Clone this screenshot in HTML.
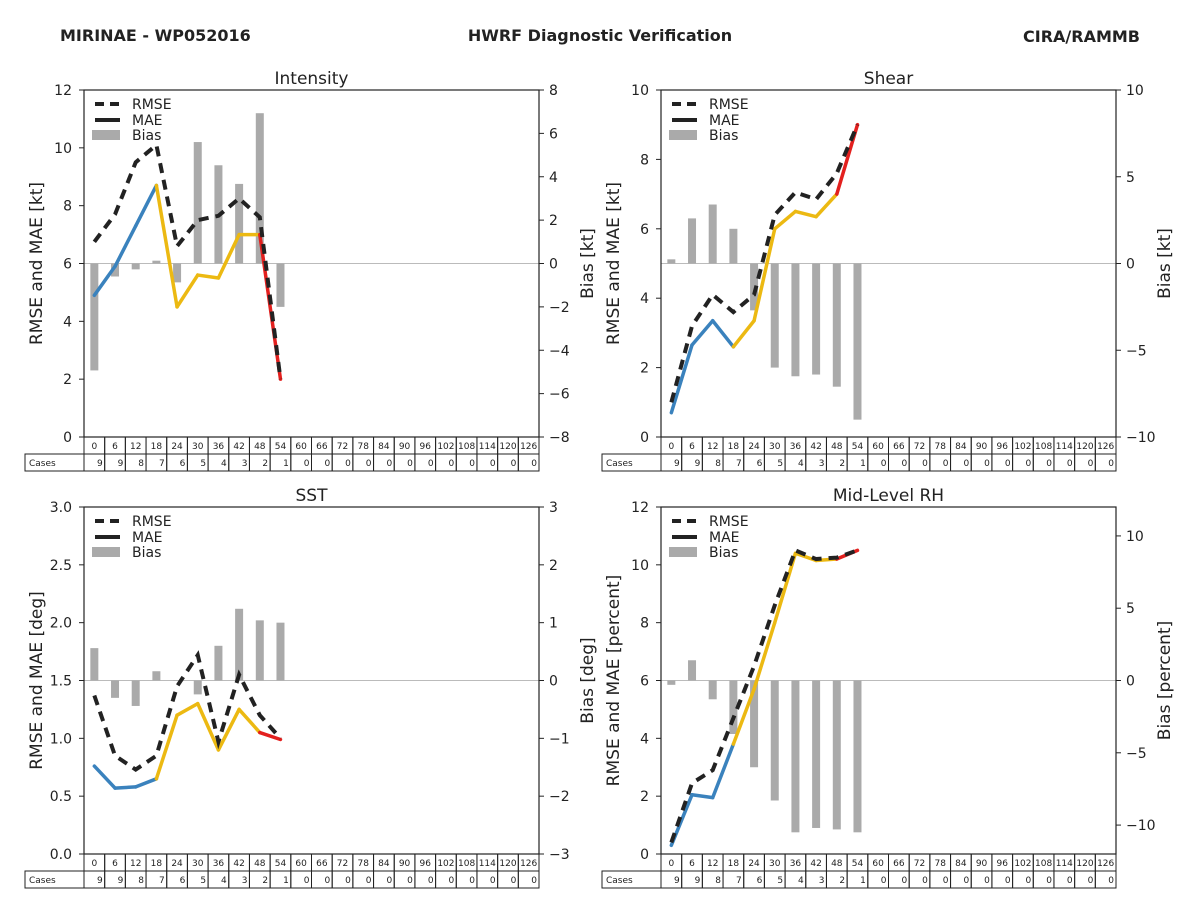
<!DOCTYPE html>
<html><head><meta charset="utf-8"><style>
body{margin:0;background:#fff;}
svg{display:block;font-family:"DejaVu Sans","Liberation Sans",sans-serif;}
</style></head><body>
<svg id="s" width="1200" height="900" viewBox="0 0 1200 900">
<text x="60" y="41" font-size="16" font-weight="bold" fill="#222">MIRINAE - WP052016</text>
<text x="600" y="41" font-size="16" font-weight="bold" fill="#222" text-anchor="middle">HWRF Diagnostic Verification</text>
<text x="1140" y="42" font-size="16" font-weight="bold" fill="#222" text-anchor="end">CIRA/RAMMB</text>
</svg>
<script>
const hours=[0,6,12,18,24,30,36,42,48,54,60,66,72,78,84,90,96,102,108,114,120,126];
const cases=[9,9,8,7,6,5,4,3,2,1,0,0,0,0,0,0,0,0,0,0,0,0];
const intRmse=[6.75,7.7,9.5,10.1,6.6,7.5,7.65,8.25,7.6,2.0];
const intMae=[4.9,5.9,7.3,8.7,4.5,5.6,5.5,7.0,7.0,2.0];
const intBias=[-4.93,-0.6,-0.27,0.13,-0.87,5.6,4.53,3.67,6.93,-2.0];
const shrRmse=[1.0,3.2,4.1,3.6,4.1,6.4,7.05,6.85,7.6,9.0];
const shrMae=[0.7,2.65,3.35,2.6,3.35,6.0,6.5,6.35,7.0,9.0];
const shrBias=[0.24,2.6,3.4,2.0,-2.7,-6.0,-6.5,-6.4,-7.1,-9.0];
const sstRmse=[1.37,0.85,0.73,0.85,1.45,1.72,0.97,1.55,1.2,1.0];
const sstMae=[0.76,0.57,0.58,0.65,1.2,1.3,0.9,1.25,1.05,0.99];
const sstBias=[0.56,-0.3,-0.44,0.16,0,-0.24,0.6,1.24,1.04,1.0];
const rhRmse=[0.4,2.45,2.9,4.7,6.5,8.6,10.5,10.2,10.25,10.5];
const rhMae=[0.3,2.05,1.95,3.8,5.7,8.0,10.4,10.15,10.2,10.5];
const rhBias=[-0.3,1.4,-1.3,-3.7,-6.0,-8.3,-10.5,-10.2,-10.3,-10.5];

const S=document.getElementById('s');const NS='http://www.w3.org/2000/svg';
function el(t,a,p){const e=document.createElementNS(NS,t);for(const k in a)e.setAttribute(k,a[k]);(p||S).appendChild(e);return e;}
function txt(x,y,s,fs,anchor,p){const e=el('text',{x:x,y:y,'font-size':fs,'text-anchor':anchor||'middle',fill:'#222'},p);e.textContent=s;return e;}

function panel(o){
 const g=el('g',{});
 
 
 const L=o.x,R=o.x+455,T=o.y,B=o.y+347,W=R-L,cw=W/hours.length;
 const xs=i=>L+(i+0.5)*cw;
 const yl=v=>B-(v-o.lmin)/(o.lmax-o.lmin)*(B-T);
 const yr=v=>B-(v-o.rmin)/(o.rmax-o.rmin)*(B-T);
 // zero line
 const z=el('line',{x1:L,x2:R,y1:yr(0),y2:yr(0),stroke:'#bbb','stroke-width':1},g);
 
 
 // bias bars
 o.bias.forEach((v,i)=>{const y0=yr(0),y1=yr(v);
  const b=el('rect',{x:xs(i)-4,y:Math.min(y0,y1),width:8,height:Math.max(Math.abs(y1-y0),0.5),fill:'#aaa'},g);
  
  });
 // MAE segments
 const cols=i=>i<3?'#3a82bd':(i<8?'#ecb912':'#e3201e');
 for(let i=0;i<o.mae.length-1;i++){
  const m=el('line',{x1:xs(i),y1:yl(o.mae[i]),x2:xs(i+1),y2:yl(o.mae[i+1]),stroke:cols(i),'stroke-width':3.5,'stroke-linecap':'round'},g);
  
  }
 const pts=o.rmse.map((v,i)=>xs(i)+','+yl(v)).join(' ');
 const r=el('polyline',{points:pts,fill:'none',stroke:'#222','stroke-width':4,'stroke-dasharray':'10,7'},g);
 
 
 // frame
 el('rect',{x:L,y:T,width:W,height:B-T,fill:'none',stroke:'#222','stroke-width':1.2},g);
 // left ticks
 o.lt.forEach(v=>{const y=yl(v);el('line',{x1:L-5,x2:L,y1:y,y2:y,stroke:'#222'},g);txt(L-12,y+5,String(v),14,'end',g);});
 o.rt.forEach(v=>{const y=yr(v);el('line',{x1:R,x2:R+5,y1:y,y2:y,stroke:'#222'},g);txt(R+10,y+5,(v<0?'\u2212':'')+Math.abs(v),14,'start',g);});
 const tl=txt(0,0,o.ylab,17,'middle',g);tl.setAttribute('transform','translate('+(L-42)+','+(T+B)/2+') rotate(-90)');
 
 const tr=txt(0,0,o.rlab,17,'middle',g);tr.setAttribute('transform','translate('+(R+54)+','+(T+B)/2+') rotate(-90)');
 
 const tt=txt((L+R)/2,T-6,o.title,17,'middle',g);
 
 // legend
 const lg=el('g',{},g);
 el('line',{x1:L+11,x2:L+36,y1:T+14,y2:T+14,stroke:'#222','stroke-width':4,'stroke-dasharray':'9,6'},lg);
 txt(L+48,T+19,'RMSE',14,'start',lg);
 el('line',{x1:L+11,x2:L+36,y1:T+30,y2:T+30,stroke:'#222','stroke-width':4},lg);
 txt(L+48,T+35,'MAE',14,'start',lg);
 el('rect',{x:L+8,y:T+40,width:28,height:10,fill:'#aaa'},lg);
 txt(L+48,T+50,'Bias',14,'start',lg);
 // table
 const tb=el('g',{},g);
 hours.forEach((h,i)=>{const x=L+i*cw;
  el('rect',{x:x,y:B,width:cw,height:17,fill:'none',stroke:'#222','stroke-width':1},tb);
  txt(x+cw/2,B+12,String(h),9,'middle',tb);
  el('rect',{x:x,y:B+17,width:cw,height:17,fill:'none',stroke:'#222','stroke-width':1},tb);
  txt(x+cw-2,B+29,String(cases[i]),9,'end',tb);});
 el('rect',{x:L-59,y:B+17,width:59,height:17,fill:'none',stroke:'#222','stroke-width':1},tb);
 txt(L-55,B+29,'Cases',9,'start',tb);
}
panel({name:'intensity',title:'Intensity',x:84,y:90,lmin:0,lmax:12,rmin:-8,rmax:8,lt:[0,2,4,6,8,10,12],rt:[-8,-6,-4,-2,0,2,4,6,8],ylab:'RMSE and MAE [kt]',rlab:'Bias [kt]',rmse:intRmse,mae:intMae,bias:intBias});
panel({name:'shear',title:'Shear',x:661,y:90,lmin:0,lmax:10,rmin:-10,rmax:10,lt:[0,2,4,6,8,10],rt:[-10,-5,0,5,10],ylab:'RMSE and MAE [kt]',rlab:'Bias [kt]',rmse:shrRmse,mae:shrMae,bias:shrBias});
panel({name:'sst',title:'SST',x:84,y:507,lmin:0,lmax:3,rmin:-3,rmax:3,lt:[0,0.5,1,1.5,2,2.5,3],rt:[-3,-2,-1,0,1,2,3],ylab:'RMSE and MAE [deg]',rlab:'Bias [deg]',rmse:sstRmse,mae:sstMae,bias:sstBias});
panel({name:'rh',title:'Mid-Level RH',x:661,y:507,lmin:0,lmax:12,rmin:-12,rmax:12,lt:[0,2,4,6,8,10,12],rt:[-10,-5,0,5,10],ylab:'RMSE and MAE [percent]',rlab:'Bias [percent]',rmse:rhRmse,mae:rhMae,bias:rhBias});
// fix SST tick formatting
document.querySelectorAll('text').forEach(t=>{});
</script>
<script>
// format SST left ticks with one decimal
(function(){const ts=document.querySelectorAll('text');ts.forEach(t=>{const y=+t.getAttribute('y');const x=+t.getAttribute('x');if(x===72&&y>500&&y<870){const v=parseFloat(t.textContent);if(!isNaN(v))t.textContent=v.toFixed(1);}});})();
</script>
</body></html>
